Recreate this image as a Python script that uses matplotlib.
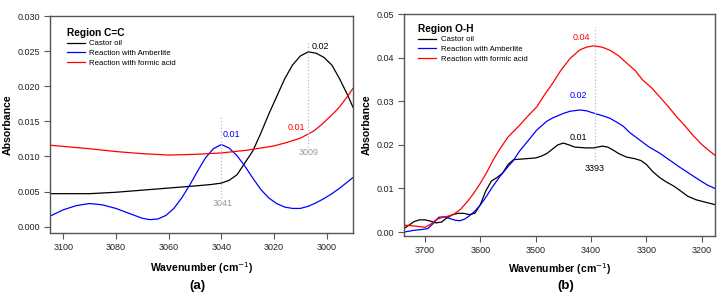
import matplotlib
matplotlib.use("Agg")
import matplotlib.pyplot as plt
from matplotlib.ticker import MultipleLocator, FormatStrFormatter

plt.rcParams['font.family'] = ['Liberation Sans', 'DejaVu Sans']

# ---------------- Panel (a): Region C=C ----------------
a_castor_x = [3105, 3090, 3080, 3070, 3060, 3050, 3044, 3040, 3037, 3034, 3031, 3028, 3025,
              3022, 3019, 3016, 3013, 3010, 3007, 3004, 3001, 2998, 2995, 2992, 2990]
a_castor_y = [0.0047, 0.0047, 0.0049, 0.0052, 0.0055, 0.0058, 0.0060, 0.0062, 0.0066, 0.0074,
              0.0091, 0.0108, 0.0133, 0.0160, 0.0185, 0.0210, 0.0230, 0.0243, 0.0249, 0.0247,
              0.0241, 0.0230, 0.0210, 0.0187, 0.0170]

a_amb_x = [3105, 3100, 3095, 3090, 3085, 3080, 3075, 3070, 3067, 3064, 3061, 3058, 3055, 3052,
           3049, 3046, 3043, 3040, 3037, 3034, 3031, 3028, 3025, 3022, 3019, 3016, 3013, 3010,
           3007, 3004, 3001, 2998, 2995, 2992, 2990]
a_amb_y = [0.0015, 0.0024, 0.0030, 0.0033, 0.0031, 0.0026, 0.0019, 0.0012, 0.0010, 0.0011,
           0.0016, 0.0026, 0.0041, 0.0059, 0.0079, 0.0098, 0.0111, 0.0117, 0.0112, 0.0101,
           0.0086, 0.0069, 0.0053, 0.0041, 0.0033, 0.0028, 0.0026, 0.0026, 0.0029, 0.0034,
           0.0040, 0.0047, 0.0055, 0.0064, 0.0070]

a_form_x = [3105, 3090, 3080, 3070, 3060, 3050, 3040, 3030, 3020, 3015, 3010, 3005, 3002, 3000,
            2997, 2995, 2992, 2990]
a_form_y = [0.0116, 0.0111, 0.0107, 0.0104, 0.0102, 0.0103, 0.0105, 0.0109, 0.0115, 0.0120,
            0.0126, 0.0136, 0.0145, 0.0152, 0.0163, 0.0171, 0.0186, 0.0197]

# ---------------- Panel (b): Region O-H ----------------
b_castor_x = [3738, 3730, 3720, 3710, 3700, 3690, 3680, 3670, 3660, 3650, 3640, 3630, 3620, 3610,
              3600, 3590, 3580, 3570, 3560, 3550, 3540, 3520, 3500, 3490, 3480, 3470, 3460, 3450,
              3440, 3430, 3410, 3395, 3380, 3370, 3360, 3350, 3336, 3320, 3310, 3300, 3288, 3275,
              3264, 3250, 3240, 3225, 3210, 3195, 3176]
b_castor_y = [0.0008, 0.0015, 0.0024, 0.0028, 0.0028, 0.0025, 0.0021, 0.0023, 0.0033, 0.0040,
              0.0043, 0.0043, 0.0040, 0.0043, 0.0063, 0.0095, 0.0117, 0.0125, 0.0135, 0.0155,
              0.0166, 0.0168, 0.0170, 0.0174, 0.0180, 0.0190, 0.0200, 0.0204, 0.0200, 0.0195,
              0.0193, 0.0193, 0.0197, 0.0195, 0.0188, 0.0180, 0.0172, 0.0168, 0.0164, 0.0155,
              0.0138, 0.0124, 0.0115, 0.0105, 0.0096, 0.0082, 0.0074, 0.0069, 0.0063]

b_amb_x = [3738, 3720, 3705, 3695, 3685, 3675, 3665, 3655, 3645, 3637, 3628, 3619, 3610, 3600,
           3590, 3580, 3565, 3550, 3541, 3529, 3516, 3498, 3480, 3469, 3450, 3438, 3420, 3408,
           3396, 3380, 3366, 3355, 3342, 3330, 3312, 3295, 3276, 3258, 3240, 3222, 3204, 3190,
           3176]
b_amb_y = [0.0000, 0.0004, 0.0006, 0.0008, 0.0020, 0.0034, 0.0035, 0.0031, 0.0027, 0.0026,
           0.0030, 0.0038, 0.0048, 0.0062, 0.0080, 0.0100, 0.0127, 0.0150, 0.0163, 0.0186,
           0.0206, 0.0234, 0.0254, 0.0262, 0.0272, 0.0277, 0.0280, 0.0278, 0.0273, 0.0267,
           0.0261, 0.0253, 0.0243, 0.0228, 0.0211, 0.0195, 0.0181, 0.0165, 0.0149, 0.0134,
           0.0119, 0.0108, 0.0100]

b_form_x = [3738, 3720, 3700, 3690, 3680, 3673, 3660, 3649, 3636, 3624, 3612, 3600, 3588, 3577,
            3565, 3550, 3529, 3515, 3498, 3485, 3469, 3455, 3438, 3420, 3408, 3396, 3380, 3366,
            3350, 3336, 3320, 3307, 3290, 3276, 3260, 3245, 3230, 3216, 3200, 3190, 3176]
b_form_y = [0.0016, 0.0014, 0.0011, 0.0018, 0.0028, 0.0032, 0.0036, 0.0040, 0.0052, 0.0069,
            0.0089, 0.0112, 0.0138, 0.0165, 0.0190, 0.0218, 0.0245, 0.0265, 0.0287, 0.0313,
            0.0342, 0.0370, 0.0398, 0.0418, 0.0424, 0.0427, 0.0424, 0.0417, 0.0404, 0.0388,
            0.0370, 0.0349, 0.0330, 0.0310, 0.0287, 0.0264, 0.0243, 0.0222, 0.0201, 0.0190,
            0.0176]

series_labels = ["Castor oil", "Reaction with Amberlite", "Reaction with formic acid"]
series_colors = ["black", "blue", "red"]
legend_titles = ["Region C=C", "Region O-H"]

fig = plt.figure(figsize=(7.22, 2.98), dpi=100)
axA = fig.add_axes([50/722, 1-233/298, 303/722, 217/298])
axB = fig.add_axes([404/722, 1-236/298, 311/722, 222/298])

spine_col = "#555555"


def style(ax, ylab_x, xlab_xy):
    for s in ax.spines.values():
        s.set_color(spine_col)
        s.set_linewidth(1.0)
    ax.tick_params(direction="out", length=4, width=0.8, color=spine_col, pad=3,
                   labelsize=6.5, labelcolor="#222222", top=False, right=False)
    ax.set_ylabel("Absorbance", fontsize=7.6, fontweight="bold")
    ax.set_xlabel("Wavenumber (cm$^{-1}$)", fontsize=7.6, fontweight="bold")
    ax.yaxis.set_label_coords(ylab_x, 0.5)
    ax.xaxis.set_label_coords(*xlab_xy)
    ax.xaxis.label.set_va("center")
    ax.yaxis.label.set_va("center")


legend_kw = dict(loc="upper left", frameon=False, fontsize=5.6, handlelength=2.3,
                 handletextpad=0.6, labelspacing=0.3, borderpad=0.3, alignment="left",
                 title_fontproperties={"weight": "bold", "size": 7.3})

# Panel (a)
for xs, ys, lab, col in zip([a_castor_x, a_amb_x, a_form_x],
                            [a_castor_y, a_amb_y, a_form_y],
                            series_labels, series_colors):
    axA.plot(xs, ys, color=col, lw=0.9, label=lab)
axA.set_xlim(3105, 2990)
axA.set_ylim(-0.0009, 0.030)
axA.xaxis.set_major_locator(MultipleLocator(20))
axA.yaxis.set_major_locator(MultipleLocator(0.005))
axA.yaxis.set_major_formatter(FormatStrFormatter("%.3f"))
style(axA, (8-50)/303, ((202-50)/303, (233-268)/217))

axA.plot([3040, 3040], [0.0041, 0.0157], color="#bbbbbb", ls=":", lw=0.9)
axA.plot([3007, 3007], [0.0114, 0.0264], color="#bbbbbb", ls=":", lw=0.9)
axA.text(3036, 0.0131, "0.01", color="blue", fontsize=6.5, ha="center", va="center")
axA.text(3039.5, 0.0033, "3041", color="#999999", fontsize=6.5, ha="center", va="center")
axA.text(3002.5, 0.0256, "0.02", color="black", fontsize=6.5, ha="center", va="center")
axA.text(3011.4, 0.0141, "0.01", color="red", fontsize=6.5, ha="center", va="center")
axA.text(3007, 0.0106, "3009", color="#999999", fontsize=6.5, ha="center", va="center")

axA.legend(title=legend_titles[0], bbox_to_anchor=(0.035, 0.975), **legend_kw)

# Panel (b)
for xs, ys, lab, col in zip([b_castor_x, b_amb_x, b_form_x],
                            [b_castor_y, b_amb_y, b_form_y],
                            series_labels, series_colors):
    axB.plot(xs, ys, color=col, lw=0.9, label=lab)
axB.set_xlim(3738, 3176)
axB.set_ylim(-0.0009, 0.050)
axB.xaxis.set_major_locator(MultipleLocator(100))
axB.yaxis.set_major_locator(MultipleLocator(0.01))
axB.yaxis.set_major_formatter(FormatStrFormatter("%.2f"))
style(axB, (367-404)/311, ((560-404)/311, (236-269)/222))

axB.plot([3393, 3393], [0.0165, 0.047], color="#bbbbbb", ls=":", lw=0.9)
axB.text(3418, 0.0447, "0.04", color="red", fontsize=6.5, ha="center", va="center")
axB.text(3422, 0.0312, "0.02", color="blue", fontsize=6.5, ha="center", va="center")
axB.text(3422, 0.0216, "0.01", color="black", fontsize=6.5, ha="center", va="center")
axB.text(3393, 0.0145, "3393", color="black", fontsize=6.5, ha="center", va="center")

axB.legend(title=legend_titles[1], bbox_to_anchor=(0.025, 0.985), **legend_kw)

fig.text(197/722, 1-286/298, "(a)", fontsize=9.5, fontweight="bold", ha="center", va="center")
fig.text(566/722, 1-286/298, "(b)", fontsize=9.5, fontweight="bold", ha="center", va="center")

fig.savefig("out.png", dpi=100)
